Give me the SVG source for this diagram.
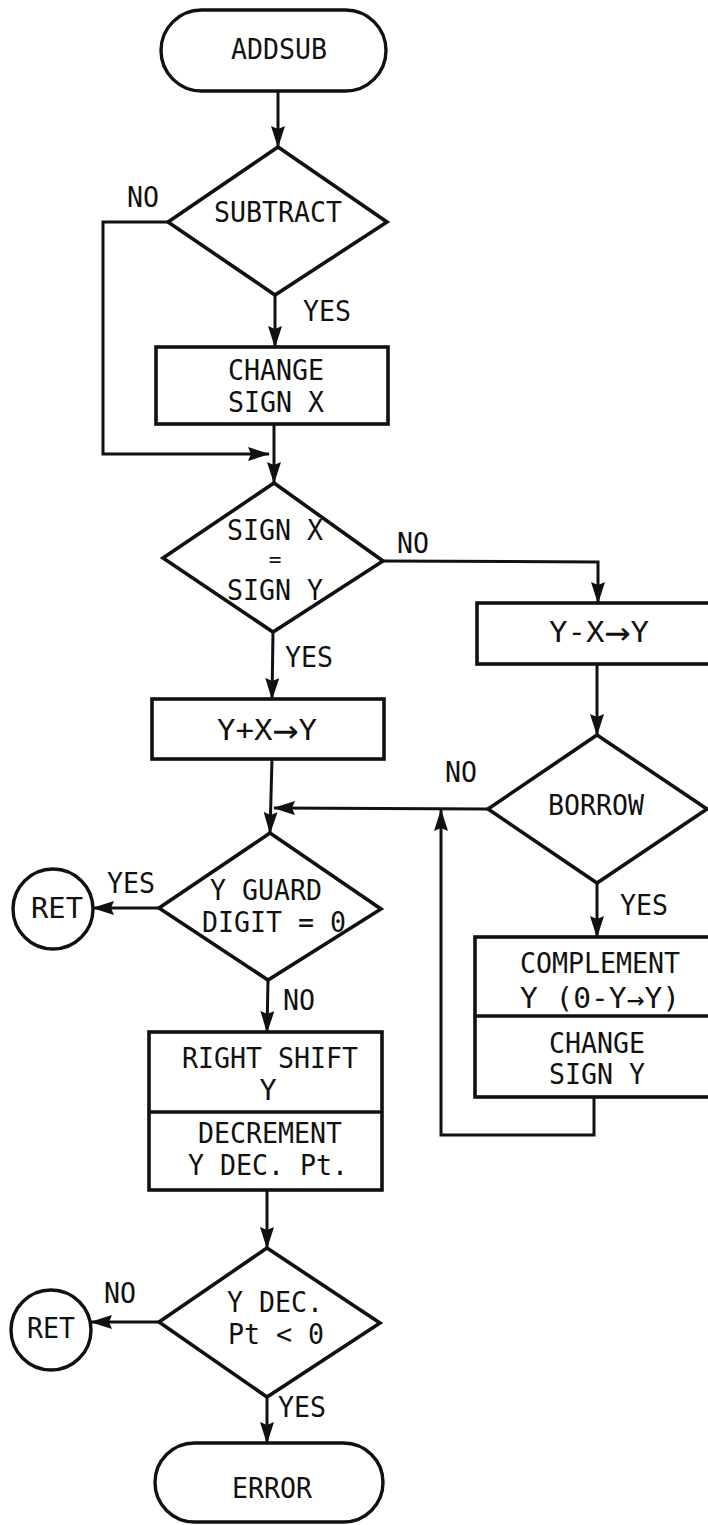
<svg xmlns="http://www.w3.org/2000/svg" width="708" height="1525" viewBox="0 0 708 1525">
  <style>
    .shape { fill: #fff; stroke: #111; stroke-width: 3.6; stroke-linejoin: miter; }
    .term { fill: #fff; stroke: #111; stroke-width: 3.4; }
    .line { fill: none; stroke: #111; stroke-width: 3; stroke-linejoin: miter; }
    .arrow { marker-end: url(#head); }
    text { font-family: "DejaVu Sans Mono", "Liberation Mono", monospace; font-size: 28.5px; fill: #111; }
    .c { text-anchor: middle; }
    .big { font-size: 40px; }
    .eq { font-size: 21px; }
  </style>
  <defs>
    <marker id="head" viewBox="0 0 22 14" refX="21" refY="7" markerWidth="22" markerHeight="14" markerUnits="userSpaceOnUse" orient="auto">
      <path d="M0,0 L22,7 L0,14 L3,7 z" fill="#111"/>
    </marker>
  </defs>
  <rect width="708" height="1525" fill="#fff"/>

  <!-- connectors and their branch labels -->
  <g id="connectors">
    <path class="line arrow" d="M278,91 L278,147"/>
    <path class="line arrow" d="M168,222 L103,222 L103,454 L269,454"/>
    <path class="line arrow" d="M275,295 L275,347"/>
    <path class="line arrow" d="M274,424 L274,483"/>
    <path class="line arrow" d="M383,561 L598,562 L598,603"/>
    <path class="line arrow" d="M273,632 L272,699"/>
    <path class="line arrow" d="M597,664 L597,735"/>
    <path class="line arrow" d="M272,759 L270,833"/>
    <path class="line arrow" d="M488,809 L274,808"/>
    <path class="line arrow" d="M597,883 L597,937"/>
    <path class="line arrow" d="M594,1097 L594,1135 L441,1135 L441,810"/>
    <path class="line arrow" d="M159,908 L93,908"/>
    <path class="line arrow" d="M268,980 L267,1032"/>
    <path class="line arrow" d="M267,1190 L267,1248"/>
    <path class="line arrow" d="M159,1322 L91,1322"/>
    <path class="line arrow" d="M267,1397 L267,1443"/>
    <text x="127" y="207" textLength="32" lengthAdjust="spacingAndGlyphs">NO</text>
    <text x="303" y="321" textLength="48" lengthAdjust="spacingAndGlyphs">YES</text>
    <text x="397" y="553" textLength="32" lengthAdjust="spacingAndGlyphs">NO</text>
    <text x="285" y="667" textLength="48" lengthAdjust="spacingAndGlyphs">YES</text>
    <text x="445" y="782" textLength="32" lengthAdjust="spacingAndGlyphs">NO</text>
    <text x="107" y="893" textLength="48" lengthAdjust="spacingAndGlyphs">YES</text>
    <text x="620" y="915" textLength="48" lengthAdjust="spacingAndGlyphs">YES</text>
    <text x="283" y="1010" textLength="32" lengthAdjust="spacingAndGlyphs">NO</text>
    <text x="104" y="1303" textLength="32" lengthAdjust="spacingAndGlyphs">NO</text>
    <text x="278" y="1417" textLength="48" lengthAdjust="spacingAndGlyphs">YES</text>
  </g>

  <!-- start terminal -->
  <g id="addsub">
    <rect class="term" x="161" y="10" width="225" height="81" rx="40.5"/>
    <text class="c" x="279" y="59" textLength="96" lengthAdjust="spacingAndGlyphs">ADDSUB</text>
  </g>

  <g id="subtract">
    <polygon class="shape" points="278,147 387,222 275,295 168,222"/>
    <text class="c" x="278" y="222" textLength="128" lengthAdjust="spacingAndGlyphs">SUBTRACT</text>
  </g>

  <g id="change-sign-x">
    <rect class="shape" x="156" y="347" width="232" height="77"/>
    <text class="c" x="276" y="380" textLength="96" lengthAdjust="spacingAndGlyphs">CHANGE</text>
    <text class="c" x="276" y="412" textLength="96" lengthAdjust="spacingAndGlyphs">SIGN X</text>
  </g>

  <g id="sign-compare">
    <polygon class="shape" points="274,483 383,561 273,632 163,558"/>
    <text class="c" x="275" y="540" textLength="96" lengthAdjust="spacingAndGlyphs">SIGN X</text>
    <text class="c eq" x="275" y="567">=</text>
    <text class="c" x="275" y="600" textLength="96" lengthAdjust="spacingAndGlyphs">SIGN Y</text>
  </g>

  <g id="subtract-xy">
    <rect class="shape" x="477" y="603" width="240" height="61"/>
    <text class="c" x="599" y="642" textLength="100" lengthAdjust="spacingAndGlyphs">Y-X<tspan class="big" dy="3">→</tspan><tspan dy="-3">Y</tspan></text>
  </g>

  <g id="add-xy">
    <rect class="shape" x="152" y="699" width="232" height="60"/>
    <text class="c" x="267" y="740" textLength="100" lengthAdjust="spacingAndGlyphs">Y+X<tspan class="big" dy="3">→</tspan><tspan dy="-3">Y</tspan></text>
  </g>

  <g id="borrow">
    <polygon class="shape" points="597,735 707,809 597,883 488,809"/>
    <text class="c" x="596" y="815" textLength="96" lengthAdjust="spacingAndGlyphs">BORROW</text>
  </g>

  <g id="guard-digit">
    <polygon class="shape" points="270,833 381,909 268,980 159,908"/>
    <text class="c" x="266" y="900" textLength="112" lengthAdjust="spacingAndGlyphs">Y GUARD</text>
    <text class="c" x="274" y="932" textLength="144" lengthAdjust="spacingAndGlyphs">DIGIT = 0</text>
  </g>

  <g id="ret-1">
    <circle class="term" cx="53" cy="909" r="40"/>
    <text class="c" x="57" y="918" textLength="52" lengthAdjust="spacingAndGlyphs">RET</text>
  </g>

  <g id="complement">
    <rect class="shape" x="475" y="937" width="240" height="160"/>
    <line class="shape" x1="475" y1="1016" x2="715" y2="1016"/>
    <text class="c" x="600" y="973" textLength="160" lengthAdjust="spacingAndGlyphs">COMPLEMENT</text>
    <text class="c" x="600" y="1008" textLength="160" lengthAdjust="spacingAndGlyphs">Y (0-Y<tspan dy="1">→</tspan><tspan dy="-1">Y)</tspan></text>
    <text class="c" x="597" y="1053" textLength="96" lengthAdjust="spacingAndGlyphs">CHANGE</text>
    <text class="c" x="597" y="1084" textLength="96" lengthAdjust="spacingAndGlyphs">SIGN Y</text>
  </g>

  <g id="shift">
    <rect class="shape" x="149" y="1032" width="233" height="158"/>
    <line class="shape" x1="149" y1="1112" x2="382" y2="1112"/>
    <text class="c" x="270" y="1068" textLength="176" lengthAdjust="spacingAndGlyphs">RIGHT SHIFT</text>
    <text class="c" x="268" y="1100">Y</text>
    <text class="c" x="270" y="1143" textLength="144" lengthAdjust="spacingAndGlyphs">DECREMENT</text>
    <text class="c" x="268" y="1175" textLength="160" lengthAdjust="spacingAndGlyphs">Y DEC. Pt.</text>
  </g>

  <g id="dec-point">
    <polygon class="shape" points="267,1248 380,1323 267,1397 159,1322"/>
    <text class="c" x="275" y="1312" textLength="96" lengthAdjust="spacingAndGlyphs">Y DEC.</text>
    <text class="c" x="276" y="1344" textLength="96" lengthAdjust="spacingAndGlyphs">Pt &lt; 0</text>
  </g>

  <g id="ret-2">
    <circle class="term" cx="51" cy="1330" r="40"/>
    <text class="c" x="51" y="1338" textLength="48" lengthAdjust="spacingAndGlyphs">RET</text>
  </g>

  <g id="error">
    <rect class="term" x="155" y="1443" width="228" height="79" rx="39.5"/>
    <text class="c" x="272" y="1498" textLength="80" lengthAdjust="spacingAndGlyphs">ERROR</text>
  </g>
</svg>
